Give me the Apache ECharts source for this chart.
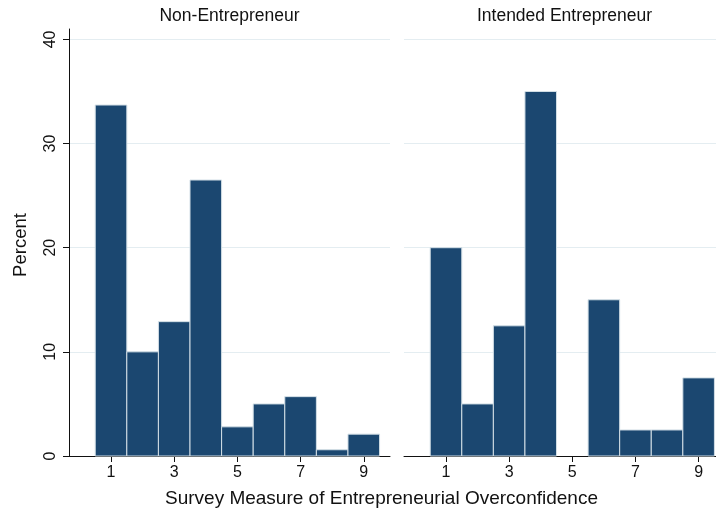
<!DOCTYPE html>
<html>
<head>
<meta charset="utf-8">
<title>Survey Measure of Entrepreneurial Overconfidence</title>
<script src="https://cdn.jsdelivr.net/npm/echarts@6/dist/echarts.min.js"></script>
<style>
  html, body { margin: 0; padding: 0; background: #ffffff; }
  #chart { width: 716px; height: 513px; }
</style>
</head>
<body>
<div id="chart"></div>
<script>
// Overconfidence score (1..9) and share of respondents in each group
const scores = [1, 2, 3, 4, 5, 6, 7, 8, 9];
const nonEntrepreneur = [33.7, 10.0, 12.9, 26.5, 2.8, 5.0, 5.7, 0.6, 2.1];
const intendedEntrepreneur = [20.0, 5.0, 12.5, 35.0, 0.0, 15.0, 2.5, 2.5, 7.5];
const panelTitles = ['Non-Entrepreneur', 'Intended Entrepreneur'];
const xTicks = [1, 3, 5, 7, 9];
const yTicks = [0, 10, 20, 30, 40];

const FONT = '"Liberation Sans", Arial, Helvetica, sans-serif';
const BAR_FILL = '#1b4770';
const BAR_EDGE = '#d3dfe6';
const GRID_LINE = '#e4edf1';
const AXIS_LINE = '#111111';

// Histogram bars: each score covers [score - 0.5, score + 0.5]
function renderBar(params, api) {
  const x = api.value(0);
  const y = api.value(1);
  if (!y) return null;
  const base = api.coord([x - 0.5, 0]);
  const top = api.coord([x + 0.5, y]);
  return {
    type: 'rect',
    shape: {
      x: base[0],
      y: top[1],
      width: top[0] - base[0],
      height: base[1] - top[1]
    },
    style: { fill: BAR_FILL, stroke: BAR_EDGE, lineWidth: 1 }
  };
}

function xAxisFor(gridIndex, max) {
  return {
    type: 'value',
    gridIndex: gridIndex,
    min: -0.33,
    max: max,
    axisLine: { show: true, onZero: false, lineStyle: { color: AXIS_LINE, width: 1 } },
    axisTick: { show: true, customValues: xTicks, length: 6, lineStyle: { color: AXIS_LINE } },
    axisLabel: {
      customValues: xTicks,
      color: '#111',
      fontFamily: FONT,
      fontSize: 16,
      margin: 9
    },
    splitLine: { show: false }
  };
}

function yAxisFor(gridIndex, visible) {
  return {
    type: 'value',
    gridIndex: gridIndex,
    min: 0,
    max: 41,
    axisLine: { show: visible, onZero: false, lineStyle: { color: AXIS_LINE, width: 1 } },
    axisTick: { show: visible, customValues: yTicks, length: 6, lineStyle: { color: AXIS_LINE } },
    axisLabel: {
      show: visible,
      customValues: yTicks,
      rotate: 90,
      color: '#111',
      fontFamily: FONT,
      fontSize: 16,
      margin: 10
    },
    splitLine: { show: true, lineStyle: { color: GRID_LINE, width: 1 } }
  };
}

const chart = echarts.init(document.getElementById('chart'), null, { renderer: 'canvas' });

chart.setOption({
  backgroundColor: '#ffffff',
  animation: false,
  textStyle: { fontFamily: FONT },
  grid: [
    { left: 69, top: 29, width: 321, height: 427 },
    // the right panel stops at the canvas edge, so its range is cut short
    { left: 404, top: 29, right: 0, height: 427 }
  ],
  xAxis: [xAxisFor(0, 9.83), xAxisFor(1, 9.55)],
  yAxis: [yAxisFor(0, true), yAxisFor(1, false)],
  graphic: [
    {
      type: 'text',
      x: 229.5, y: 16.5,
      style: { text: panelTitles[0], font: '17.5px ' + FONT, fill: '#111', align: 'center', verticalAlign: 'middle' }
    },
    {
      type: 'text',
      x: 564.5, y: 16.5,
      style: { text: panelTitles[1], font: '17.5px ' + FONT, fill: '#111', align: 'center', verticalAlign: 'middle' }
    },
    {
      type: 'text',
      x: 381.5, y: 498.5,
      style: { text: 'Survey Measure of Entrepreneurial Overconfidence', font: '19px ' + FONT, fill: '#111', align: 'center', verticalAlign: 'middle' }
    },
    {
      type: 'text',
      x: 20.5, y: 245,
      rotation: Math.PI / 2,
      style: { text: 'Percent', font: '18.5px ' + FONT, fill: '#111', align: 'center', verticalAlign: 'middle' }
    }
  ],
  series: [
    {
      type: 'custom',
      xAxisIndex: 0,
      yAxisIndex: 0,
      renderItem: renderBar,
      encode: { x: 0, y: 1 },
      data: scores.map((s, i) => [s, nonEntrepreneur[i]])
    },
    {
      type: 'custom',
      xAxisIndex: 1,
      yAxisIndex: 1,
      renderItem: renderBar,
      encode: { x: 0, y: 1 },
      data: scores.map((s, i) => [s, intendedEntrepreneur[i]])
    }
  ]
});
</script>
</body>
</html>
